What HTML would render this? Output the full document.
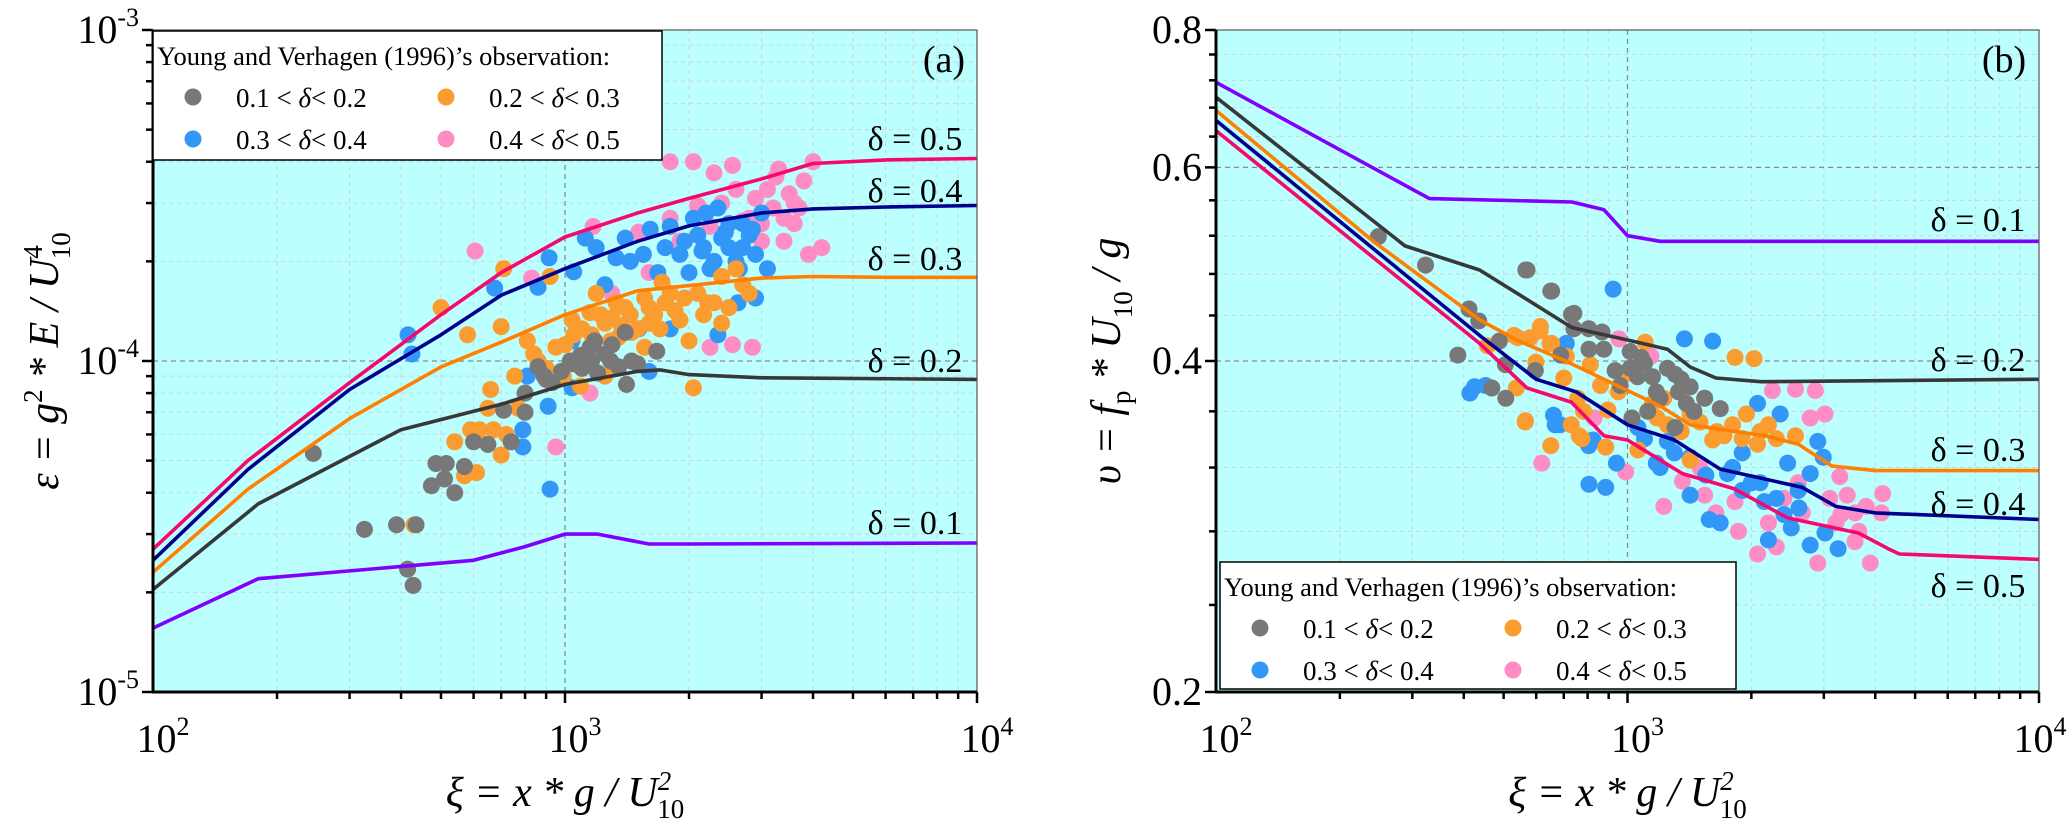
<!DOCTYPE html>
<html><head><meta charset="utf-8"><style>
html,body{margin:0;padding:0;background:#fff;}
svg, svg text{font-family:"Liberation Serif","DejaVu Serif",serif;}
</style></head><body>
<svg id="c" width="2067" height="820" viewBox="0 0 2067 820" xmlns="http://www.w3.org/2000/svg" font-family="Liberation Serif, DejaVu Serif, serif"></svg>
<script>
// ---------- Panel (a) data ----------
const aLineX = [100,170,300,500,700,1000,1500,2000,3000,4000,6000,10000];
const aL05 = [2.7e-5,5.0e-5,8.6e-5,1.38e-4,1.85e-4,2.37e-4,2.8e-4,3.1e-4,3.55e-4,3.95e-4,4.05e-4,4.09e-4];
const aL04 = [2.5e-5,4.7e-5,8.2e-5,1.2e-4,1.58e-4,1.9e-4,2.3e-4,2.56e-4,2.8e-4,2.88e-4,2.92e-4,2.95e-4];
const aL03 = [2.3e-5,4.1e-5,6.7e-5,9.6e-5,1.14e-4,1.38e-4,1.63e-4,1.69e-4,1.78e-4,1.80e-4,1.79e-4,1.79e-4];
const aL02X = [100,180,400,700,1000,1500,1700,2000,3000,10000];
const aL02 = [2.04e-5,3.7e-5,6.2e-5,7.4e-5,8.5e-5,9.3e-5,9.4e-5,9.1e-5,8.9e-5,8.8e-5];
const aL01X = [100,180,600,800,1000,1200,1600,2000,10000];
const aL01 = [1.56e-5,2.2e-5,2.5e-5,2.75e-5,3.0e-5,3.0e-5,2.8e-5,2.8e-5,2.82e-5];
const aGreyX = [245,326,390,435,415,428,486,515,474,510,540,570,600,650,710,740,800,800,860,890,930,1030,1090,1150,1160,1290,1400,1410,1500,1670,1100,1200,1250,1350,1180,980,1050,1300,900,1450];
const aGreyY = [5.26e-5,3.1e-5,3.2e-5,3.2e-5,2.35e-5,2.1e-5,4.9e-5,4.9e-5,4.2e-5,4.4e-5,4.0e-5,4.8e-5,5.7e-5,5.6e-5,7.1e-5,5.7e-5,7e-5,8e-5,9.6e-5,9e-5,8.6e-5,1e-4,1.04e-4,1.1e-4,1e-4,1e-4,1.22e-4,8.5e-5,9.8e-5,1.07e-4,9.5e-5,9.2e-5,1.05e-4,9.6e-5,1.15e-4,9.3e-5,9.8e-5,1.12e-4,8.8e-5,1.0e-4];
const aOrangeX = [500,580,700,710,920,810,840,755,660,650,540,590,620,670,720,610,570,430,700,770,950,1040,1160,1220,1290,1370,1440,1560,1650,1800,1900,2050,2000,2170,2220,1190,1330,1560,1720,1950,2400,1250,1090,990,2600,2800,2400,2700,1100,1150,1300,1400,1500,1600,1700,1750,1850,2100,2300,1350,1450,1000,1050,1250,900,860,1600,2500];
const aOrangeY = [1.45e-4,1.2e-4,1.27e-4,1.9e-4,1.8e-4,1.15e-4,1.05e-4,9e-5,8.2e-5,7.2e-5,5.7e-5,6.2e-5,6.2e-5,6.2e-5,6e-5,4.6e-5,4.5e-5,3.2e-5,5.2e-5,7.2e-5,1.1e-4,1.33e-4,1.2e-4,1.38e-4,1.15e-4,1.28e-4,1.38e-4,1.1e-4,1.38e-4,1.6e-4,1.33e-4,8.3e-5,1.15e-4,1.38e-4,1.5e-4,1.6e-4,1.5e-4,1.55e-4,1.73e-4,1.55e-4,1.8e-4,9e-5,8.4e-5,9e-5,1.9e-4,1.6e-4,1.3e-4,1.7e-4,1.25e-4,1.4e-4,1.35e-4,1.45e-4,1.25e-4,1.45e-4,1.25e-4,1.5e-4,1.42e-4,1.6e-4,1.5e-4,1.18e-4,1.22e-4,1.12e-4,1.2e-4,1.3e-4,9.5e-5,1.0e-4,1.3e-4,1.45e-4];
const aBlueX = [416,425,675,915,860,1050,1120,1190,1330,1440,1400,1610,1800,2000,2170,2350,2400,2700,2900,2630,2350,1800,1510,1040,1040,910,790,790,920,810,1600,1680,2500,2800,3000,2200,2900,2600,3100,1900,2100,2300,2500,2700,2050,2250,1750,1550,1250,2450,2650,2850,1950,2150];
const aBlueY = [1.2e-4,1.05e-4,1.66e-4,2.05e-4,1.67e-4,1.86e-4,2.35e-4,2.2e-4,2.05e-4,2e-4,2.35e-4,2.5e-4,2.55e-4,1.85e-4,2.2e-4,2.9e-4,2.35e-4,2.2e-4,1.55e-4,1.5e-4,1.2e-4,1.25e-4,1.25e-4,1.15e-4,8.3e-5,7.3e-5,6.2e-5,5.5e-5,4.1e-5,9e-5,9.3e-5,1.85e-4,2.6e-4,2.4e-4,2.8e-4,2.8e-4,2.1e-4,2.0e-4,1.9e-4,2.1e-4,2.4e-4,2.0e-4,2.2e-4,2.6e-4,2.7e-4,1.9e-4,2.2e-4,2.1e-4,1.7e-4,2.45e-4,1.9e-4,2.5e-4,2.3e-4,2.15e-4];
const aPinkX = [605,830,950,1150,1170,1300,1510,1600,1800,1800,2050,2300,2550,2250,2550,2850,2700,2900,2250,3300,3500,3800,4000,4200,3600,3200,3400,3700,3100,3000,3900,3250,2400,2600,2800,3000,3400,3600,2100,1900];
const aPinkY = [2.15e-4,1.78e-4,5.5e-5,8e-5,2.55e-4,1.6e-4,2.45e-4,1.85e-4,2.7e-4,4e-4,4e-4,3.7e-4,3.9e-4,1.1e-4,1.12e-4,1.1e-4,2.65e-4,3.1e-4,2.55e-4,3.8e-4,3.2e-4,3.5e-4,4e-4,2.2e-4,2.6e-4,2.9e-4,2.3e-4,2.9e-4,3.3e-4,2.3e-4,2.1e-4,3.6e-4,3.0e-4,3.3e-4,2.7e-4,2.6e-4,2.7e-4,3.0e-4,2.95e-4,2.3e-4];
// ---------- Panel (b) data ----------
const bL01X = [100,330,733,877,1000,1200,10000];
const bL01 = [0.717,0.562,0.558,0.549,0.52,0.514,0.514];
const bL02X = [100,288,437,733,1000,1250,1420,1640,2110,10000];
const bL02 = [0.695,0.509,0.484,0.429,0.418,0.41,0.395,0.386,0.383,0.385];
const bL03X = [100,241,437,538,707,1000,1200,1420,2160,2600,3140,4000,10000];
const bL03 = [0.676,0.514,0.436,0.418,0.40,0.376,0.364,0.35,0.342,0.336,0.321,0.318,0.318];
const bL04X = [100,437,600,750,1000,1300,1680,2660,3210,4000,10000];
const bL04 = [0.662,0.422,0.385,0.375,0.35,0.339,0.319,0.307,0.295,0.291,0.287];
const bL05X = [100,437,570,730,877,1000,1360,1820,2450,3640,4300,4580,10000];
const bL05 = [0.648,0.415,0.378,0.367,0.342,0.339,0.316,0.306,0.288,0.279,0.27,0.267,0.264];
const bGreyX = [248,323,387,412,435,468,506,488,505,566,597,651,688,731,741,806,570,654,741,805,867,876,1015,1015,1025,1058,1150,1175,1250,1305,1330,1390,1420,1540,1680,1305,1080,933,1100,1200,1350,1450,960,1120];
const bGreyY = [0.519,0.489,0.405,0.446,0.435,0.378,0.37,0.417,0.397,0.484,0.392,0.463,0.405,0.441,0.428,0.41,0.484,0.463,0.442,0.428,0.425,0.41,0.408,0.394,0.355,0.387,0.387,0.375,0.394,0.389,0.375,0.366,0.379,0.37,0.362,0.348,0.403,0.392,0.398,0.37,0.385,0.36,0.38,0.36];
const bOrangeX = [530,580,614,648,537,565,651,599,700,730,763,812,782,457,541,613,654,564,710,757,775,885,896,1104,1150,1225,1420,1540,1610,1825,2030,1945,2070,2200,2560,1420,1715,1060,1250,1350,1500,1650,1800,1900,2100,2300,950,1000,1180,860];
const bOrangeY = [0.422,0.42,0.43,0.415,0.378,0.353,0.335,0.399,0.386,0.35,0.342,0.397,0.36,0.413,0.42,0.426,0.415,0.352,0.404,0.37,0.34,0.334,0.361,0.416,0.366,0.37,0.358,0.37,0.339,0.403,0.402,0.358,0.336,0.35,0.342,0.325,0.342,0.332,0.35,0.345,0.352,0.345,0.35,0.34,0.345,0.34,0.375,0.39,0.355,0.38];
const bBlueX = [414,425,661,685,707,806,825,806,923,1375,1610,710,452,667,805,885,940,1175,1250,1420,1580,1750,1900,2070,2350,2450,2610,2780,2900,2200,2500,2780,3020,3250,1900,2150,1680,1420,1060,2990,1300,1550,1800,2000,2300,2600,2400,2100,1200,1100];
const bBlueY = [0.374,0.379,0.357,0.35,0.414,0.337,0.339,0.309,0.465,0.419,0.417,0.415,0.38,0.35,0.335,0.307,0.323,0.323,0.338,0.302,0.287,0.316,0.33,0.366,0.358,0.323,0.294,0.316,0.338,0.275,0.282,0.272,0.279,0.27,0.305,0.298,0.285,0.327,0.348,0.327,0.33,0.315,0.32,0.31,0.3,0.305,0.29,0.31,0.32,0.34];
const bPinkX = [619,830,953,990,1140,1225,1360,1540,1640,1825,2070,2250,2300,2560,2660,2860,2780,2900,3020,3280,3420,3570,3890,4140,4170,3570,3210,3800,3650,1860,2400,2600,3100,3300,2000,2200,1500];
const bPinkY = [0.323,0.355,0.419,0.317,0.404,0.295,0.311,0.302,0.291,0.298,0.267,0.376,0.271,0.377,0.291,0.376,0.355,0.262,0.358,0.314,0.302,0.291,0.262,0.291,0.303,0.274,0.285,0.295,0.28,0.28,0.3,0.31,0.3,0.29,0.31,0.285,0.32];

const NS='http://www.w3.org/2000/svg';
const svg=document.getElementById('c');
const FF='"Liberation Serif","DejaVu Serif",serif';
function mk(tag,attrs,parent){const e=document.createElementNS(NS,tag);for(const k in attrs)e.setAttribute(k,attrs[k]);if(tag==='text')e.style.fontFamily=FF;(parent||svg).appendChild(e);return e;}
const COL={grey:'#787878',orange:'#fb9c30',blue:'#3297f7',pink:'#fd8dc4'};
const LCOL={l05:'#f5096e',l04:'#00008e',l03:'#ff8000',l02:'#383838',l01:'#8000ff'};

function panel(o){
  const L=o.L,R=o.R,T=30,B=692;
  const sx=v=>L+(Math.log10(v)-2)/2*(R-L);
  const sy=v=>T+(Math.log10(o.ymax)-Math.log10(v))/(Math.log10(o.ymax)-Math.log10(o.ymin))*(B-T);
  const g=mk('g',{});
  
  
  const bg=mk('rect',{x:L,y:T,width:R-L,height:B-T,fill:'#bcffff'},g);
  
  
  for(let d=2;d<4;d++){for(let m=1;m<10;m++){const v=m*Math.pow(10,d);if(v===100)continue;const x=sx(v);
    const gl=mk('line',{x1:x,x2:x,y1:T,y2:B,stroke:m===1?'#8a8a8a':'#c9d4d4','stroke-width':m===1?1.3:1,'stroke-dasharray':m===1?'5,4':'4,4'},g);
    
    const tk=mk('line',{x1:x,x2:x,y1:B,y2:B+(m===1?11:7),stroke:'#000','stroke-width':2.5},g);
    }}
  mk('line',{x1:R,x2:R,y1:B,y2:B+11,stroke:'#000','stroke-width':2.5},g);
  o.yminor.forEach(v=>{const y=sy(v);const maj=o.ymajor.includes(v);
    if(y>T+1&&y<B-1){const gl=mk('line',{x1:L,x2:R,y1:y,y2:y,stroke:maj?'#8a8a8a':'#c9d4d4','stroke-width':maj?1.3:1,'stroke-dasharray':maj?'5,4':'4,4'},g);
    }
    const tk=mk('line',{x1:L-(maj?11:7),x2:L,y1:y,y2:y,stroke:'#000','stroke-width':2.5},g);
    });
  o.scatter.forEach(s=>{s.x.forEach((xv,i)=>{const c=mk('circle',{cx:sx(xv),cy:sy(s.y[i]),r:8.5,fill:s.c},g);
    });});
  o.lines.forEach(l=>{const p=mk('polyline',{points:l.x.map((xv,i)=>sx(xv).toFixed(1)+','+sy(l.y[i]).toFixed(1)).join(' '),fill:'none',stroke:l.c,'stroke-width':3.6,'stroke-linejoin':'round'},g);
    
    const t=mk('text',{x:l.lx,y:l.ly,'font-size':34,'text-anchor':'middle',fill:'#000'},g);t.textContent=l.label;
    });
  const fr=mk('rect',{x:L,y:T,width:R-L,height:B-T,fill:'none',stroke:'#555','stroke-width':1.2},g);
  
  mk('line',{x1:L,x2:L,y1:T,y2:B+1,stroke:'#000','stroke-width':3},g);
  mk('line',{x1:L-1,x2:R,y1:B,y2:B,stroke:'#000','stroke-width':3},g);
  [2,3,4].forEach(e=>{const xx=Math.min(sx(Math.pow(10,e))+10,2040);const t=mk('text',{x:xx,y:752,'font-size':40,'text-anchor':'middle'},g);
    t.innerHTML='10<tspan dy="-17" font-size="26">'+e+'</tspan>';
    });
  o.ylabels.forEach((v,i)=>{const t=mk('text',{x:L-14,y:sy(v)+13,'font-size':40,'text-anchor':'end'},g);
    t.innerHTML=o.ylabelText[i];
    });
  const xt=mk('text',{x:(L+R)/2,y:806,'font-size':42,'text-anchor':'middle','font-style':'italic'},g);
  xt.innerHTML='ξ = x * g / U<tspan dy="-16" font-size="27">2</tspan><tspan dx="-14" dy="28" font-size="27" font-style="normal">10</tspan>';
  
  const yt=mk('text',{transform:'translate('+o.ytx+',361) rotate(-90)','font-size':42,'text-anchor':'middle','font-style':'italic'},g);
  yt.innerHTML=o.ytitle;
  
  const pl=mk('text',{x:o.plx,y:72,'font-size':38,'text-anchor':'middle'},g);pl.textContent=o.panelLabel;
  
  const lg=mk('g',{},g);
  const q=o.leg;
  mk('rect',{x:q.x,y:q.y,width:q.w,height:q.h,fill:'#fff',stroke:'#000','stroke-width':1.5},lg);
  const lt=mk('text',{x:q.x+4,y:q.y+34,'font-size':26.5},lg);lt.textContent="Young and Verhagen (1996)’s observation:";
  
  const ents=[['grey','0.1','0.2',0,0],['orange','0.2','0.3',1,0],['blue','0.3','0.4',0,1],['pink','0.4','0.5',1,1]];
  ents.forEach(en=>{const mx=q.x+40+en[3]*253,my=q.y+66+en[4]*42;
    const c=mk('circle',{cx:mx,cy:my,r:8.5,fill:COL[en[0]]},lg);
    
    const t=mk('text',{x:mx+43,y:my+10,'font-size':27},lg);
    t.innerHTML=en[1]+' &lt; <tspan font-style="italic">δ</tspan>&lt; '+en[2];
    });
}
const aMinor=[];for(let e=-5;e<-3;e++)for(let m=1;m<10;m++)aMinor.push(+(m*Math.pow(10,e)).toPrecision(3));aMinor.push(1e-3);
panel({name:'panel-a',L:153,R:977,ymin:1e-5,ymax:1e-3,ymajor:[1e-5,1e-4,1e-3],yminor:aMinor,
  ylabels:[1e-3,1e-4,1e-5],ylabelText:['10<tspan dy="-17" font-size="26">-3</tspan>','10<tspan dy="-17" font-size="26">-4</tspan>','10<tspan dy="-17" font-size="26">-5</tspan>'],
  ytx:58,ytitle:'ε = g<tspan dy="-16" font-size="27" font-style="normal">2</tspan><tspan dy="16"> * E / U</tspan><tspan dy="-16" font-size="27" font-style="normal">4</tspan><tspan dx="-14" dy="28" font-size="27" font-style="normal">10</tspan>',
  plx:944,panelLabel:'(a)',leg:{x:153,y:31,w:509,h:129},
  scatter:[{n:'pink',c:COL.pink,x:aPinkX,y:aPinkY},{n:'blue',c:COL.blue,x:aBlueX,y:aBlueY},{n:'orange',c:COL.orange,x:aOrangeX,y:aOrangeY},{n:'grey',c:COL.grey,x:aGreyX,y:aGreyY}],
  lines:[{n:'line-delta-0.1',c:LCOL.l01,x:aL01X,y:aL01,label:'δ = 0.1',lx:915,ly:534},
    {n:'line-delta-0.2',c:LCOL.l02,x:aL02X,y:aL02,label:'δ = 0.2',lx:915,ly:372},
    {n:'line-delta-0.3',c:LCOL.l03,x:aLineX,y:aL03,label:'δ = 0.3',lx:915,ly:270},
    {n:'line-delta-0.4',c:LCOL.l04,x:aLineX,y:aL04,label:'δ = 0.4',lx:915,ly:202},
    {n:'line-delta-0.5',c:LCOL.l05,x:aLineX,y:aL05,label:'δ = 0.5',lx:915,ly:150}]});
const bMinor=[];for(let i=0;i<=15;i++)bMinor.push(+(0.2+0.04*i).toFixed(2));
panel({name:'panel-b',L:1216,R:2039,ymin:0.2,ymax:0.8,ymajor:[0.2,0.4,0.6,0.8],yminor:bMinor,
  ylabels:[0.8,0.6,0.4,0.2],ylabelText:['0.8','0.6','0.4','0.2'],
  ytx:1120,ytitle:'υ = f<tspan dy="10" font-size="27" font-style="normal">p</tspan><tspan dy="-10"> * U</tspan><tspan dy="12" font-size="27" font-style="normal">10</tspan><tspan dy="-12"> / g</tspan>',
  plx:2004,panelLabel:'(b)',leg:{x:1220,y:562,w:516,h:127},
  scatter:[{n:'pink',c:COL.pink,x:bPinkX,y:bPinkY},{n:'blue',c:COL.blue,x:bBlueX,y:bBlueY},{n:'orange',c:COL.orange,x:bOrangeX,y:bOrangeY},{n:'grey',c:COL.grey,x:bGreyX,y:bGreyY}],
  lines:[{n:'line-delta-0.1',c:LCOL.l01,x:bL01X,y:bL01,label:'δ = 0.1',lx:1978,ly:231},
    {n:'line-delta-0.2',c:LCOL.l02,x:bL02X,y:bL02,label:'δ = 0.2',lx:1978,ly:371},
    {n:'line-delta-0.3',c:LCOL.l03,x:bL03X,y:bL03,label:'δ = 0.3',lx:1978,ly:461},
    {n:'line-delta-0.4',c:LCOL.l04,x:bL04X,y:bL04,label:'δ = 0.4',lx:1978,ly:515},
    {n:'line-delta-0.5',c:LCOL.l05,x:bL05X,y:bL05,label:'δ = 0.5',lx:1978,ly:597}]});
</script>
</body></html>
